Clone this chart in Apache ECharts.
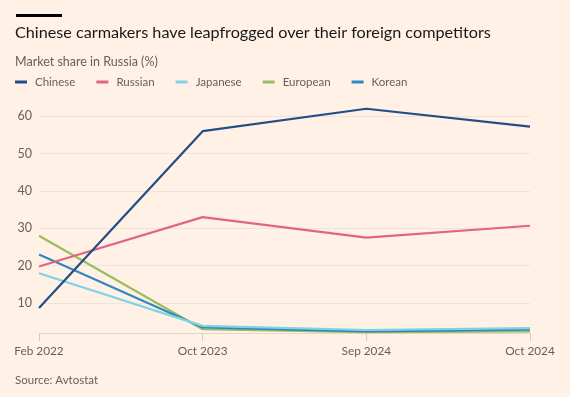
<!DOCTYPE html>
<html>
<head>
<meta charset="utf-8">
<script src="https://cdn.jsdelivr.net/npm/echarts@6/dist/echarts.min.js"></script>
<style>
  html, body { margin: 0; padding: 0; background: #fff1e5; }
  #chart { width: 570px; height: 397px; }
</style>
</head>
<body>
<div id="chart"></div>
<script>
// 数据
const categories = ["Feb 2022", "Oct 2023", "Sep 2024", "Oct 2024"]
const chinese = [8.7, 56, 62, 57.2]
const russian = [19.8, 33, 27.5, 30.7]
const japanese = [18, 3.9, 2.8, 3.3]
const european = [28, 3.0, 2.2, 2.4]
const korean = [23, 3.5, 2.4, 2.9]
const yTicks = [10, 20, 30, 40, 50, 60]

const font = "Lato, 'Noto Sans', sans-serif"
const grey = "#66605c"

const myChart = echarts.init(document.getElementById("chart"))

function lineSeries(name, data, color, z) {
  return {
    name: name,
    type: "line",
    data: data,
    symbol: "none",
    z: z,
    lineStyle: { width: 2.2, color: color },
    itemStyle: { color: color }
  }
}

const option = {
  backgroundColor: "#fff1e5",
  animation: false,
  textStyle: { fontFamily: font },
  title: [
    {
      text: "Chinese carmakers have leapfrogged over their foreign competitors",
      left: 15,
      top: 25,
      padding: 0,
      textStyle: { fontSize: 16.2, fontWeight: "normal", color: "#1a1817", fontFamily: font }
    },
    {
      text: "Market share in Russia (%)",
      left: 15,
      top: 55,
      padding: 0,
      textStyle: { fontSize: 12.5, fontWeight: "normal", color: grey, fontFamily: font }
    },
    {
      text: "Source: Avtostat",
      left: 15,
      top: 374,
      padding: 0,
      textStyle: { fontSize: 11.5, fontWeight: "normal", color: grey, fontFamily: font }
    }
  ],
  // 顶部黑色短条
  graphic: [
    { type: "rect", left: 16, top: 14, shape: { width: 46, height: 3 }, style: { fill: "#000" } }
  ],
  legend: {
    data: ["Chinese", "Russian", "Japanese", "European", "Korean"],
    left: 15,
    top: 76,
    padding: 0,
    icon: "rect",
    itemWidth: 12,
    itemHeight: 3,
    itemGap: 21,
    textStyle: { color: grey, fontSize: 11.5, fontFamily: font, padding: [0, 0, 0, 3] }
  },
  grid: {
    left: 39,
    right: 40,
    top: 105,
    bottom: 64
  },
  xAxis: {
    type: "category",
    boundaryGap: false,
    data: categories,
    axisLine: { show: true, lineStyle: { color: "#e3d7cc", width: 1 } },
    axisTick: { show: true, length: 8, alignWithLabel: true, lineStyle: { color: "#d6cabf" } },
    axisLabel: { color: grey, fontSize: 11.8, margin: 12, fontFamily: font }
  },
  yAxis: {
    type: "value",
    min: 2,
    max: 63,
    axisLine: { show: false },
    axisTick: { show: false, customValues: yTicks },
    axisLabel: { color: grey, fontSize: 12.5, margin: 7, fontFamily: font, customValues: yTicks },
    splitLine: { show: true, lineStyle: { color: "#efe3d8", width: 1 } }
  },
  series: [
    lineSeries("Chinese", chinese, "#204f85", 5),
    lineSeries("Russian", russian, "#e06582", 4),
    lineSeries("Japanese", japanese, "#80d3e2", 3),
    lineSeries("European", european, "#9bbd5e", 1),
    lineSeries("Korean", korean, "#3187c2", 2)
  ]
}
myChart.setOption(option)
</script>
</body>
</html>
